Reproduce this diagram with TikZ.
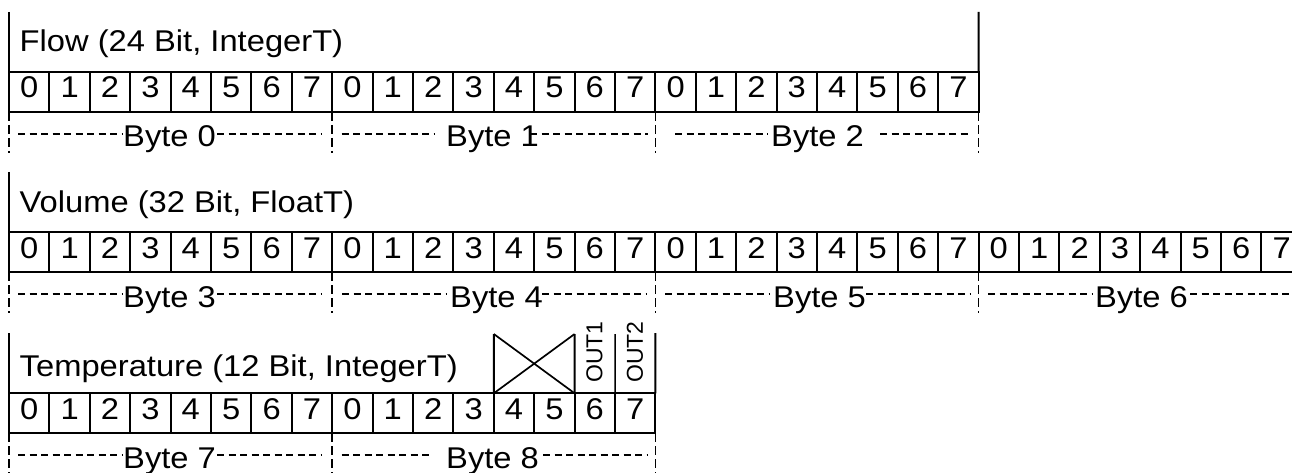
\documentclass[tikz,border=0pt]{standalone}
\usepackage{fontspec}
\setmainfont{Liberation Sans}[FakeStretch=1.09]
\newfontfamily\outfont{Liberation Sans}
\newcommand\bytelab[8]{%
  \node[bytelbl] (#1) at (#5,{#2+13}) {#6};
  \draw[dashline] (#3,#2) -- (#4,#2);
  \draw[dashline] (#7,#2) -- (#8,#2);}
\begin{document}
\begin{tikzpicture}[x=1pt,y=-1pt,
  cell/.style={draw, line width=2pt, minimum width=40.4pt, minimum height=40pt,
    inner sep=0pt, outer sep=0pt, anchor=north west, text height=21.5pt,
    text depth=9.5pt, font=\fontsize{30}{36}\selectfont},
  frame/.style={line width=2pt},
  diag/.style={line width=1.7pt},
  dashline/.style={line width=1.7pt, dash pattern=on 7pt off 4.5pt},
  tickline/.style={line width=1.7pt, dash pattern=on 9pt off 4pt},
  title/.style={anchor=base west, inner sep=0pt, font=\fontsize{30}{36}\selectfont},
  bytelbl/.style={anchor=base west, inner sep=0pt, font=\fontsize{30}{36}\selectfont},
  outlbl/.style={rotate=90, inner sep=0pt, font=\outfont\fontsize{23}{27}\selectfont}]
\useasboundingbox (0,0) rectangle (1292,473);
\clip (0,0) rectangle (1292,473);
% ---------- Flow ----------
\foreach \i in {0,...,23} {
  \pgfmathtruncatemacro\b{mod(\i,8)}
  \node[cell] (f\i) at ({9+40.4*\i},72) {\b};
}
\node[title] (ftitle) at (19.5,52) {Flow (24 Bit, IntegerT)};
\coordinate (ftl) at (9,12);
\coordinate (ftr) at (978.6,12);
\draw[frame] (ftl) -- (f0.north west);
\draw[frame] (ftr) -- (f23.north east);
\foreach \c/\a in {f0/south west, f8/south west, f16/south west, f23/south east}
  \draw[tickline] (\c.\a) -- ++(0,41);
\bytelab{b0}{134}{18}{122}{123}{Byte 0}{217}{322}
\bytelab{b1}{134}{341.7}{435}{446}{Byte 1}{530}{648}
\bytelab{b2}{134}{675}{768}{771}{Byte 2}{880}{972}
% ---------- Volume ----------
\foreach \i in {0,...,31} {
  \pgfmathtruncatemacro\b{mod(\i,8)}
  \node[cell] (v\i) at ({9+40.4*\i},232.3) {\b};
}
\node[title] (vtitle) at (19.5,212) {Volume (32 Bit, FloatT)};
\coordinate (vtl) at (9,172);
\draw[frame] (vtl) -- (v0.north west);
\foreach \c in {v0, v8, v16, v24}
  \draw[tickline] (\c.south west) -- ++(0,41);
\bytelab{b3}{294.3}{18}{122}{123}{Byte 3}{217}{322}
\bytelab{b4}{294.3}{342}{446}{450}{Byte 4}{542}{646}
\bytelab{b5}{294.3}{665}{769}{773}{Byte 5}{866}{970}
\bytelab{b6}{294.3}{988}{1092}{1095}{Byte 6}{1190}{1300}
% ---------- Temperature ----------
\foreach \i in {0,...,15} {
  \pgfmathtruncatemacro\b{mod(\i,8)}
  \node[cell] (t\i) at ({9+40.4*\i},393.3) {\b};
}
\node[title] (ttitle) at (19.5,376) {Temperature (12 Bit, IntegerT)};
\coordinate (ttl) at (9,333);
\draw[frame] (ttl) -- (t0.north west);
\foreach \c/\a in {t0/south west, t8/south west, t15/south east}
  \draw[tickline] (\c.\a) -- ++(0,41);
\bytelab{b7}{455.3}{18}{122}{123}{Byte 7}{217}{322}
\bytelab{b8}{455.3}{341.7}{433}{446}{Byte 8}{543}{648}
% crossed-out bits 4-5
\coordinate (xtl) at (493.8,334);
\coordinate (xtr) at (574.6,334);
\draw[frame] (xtl) -- (t12.north west);
\draw[frame] (xtr) -- (t13.north east);
\draw[diag] (xtl) -- (t13.north east);
\draw[diag] (xtr) -- (t12.north west);
% OUT columns
\coordinate (omid) at (615,334);
\coordinate (oright) at (655.4,333);
\draw[line width=1.5pt] (omid) -- (t14.north east);
\draw[frame] (oright) -- (t15.north east);
\node[outlbl] (out1) at (594.5,352) {OUT1};
\node[outlbl] (out2) at (635,352) {OUT2};
\end{tikzpicture}
\end{document}
